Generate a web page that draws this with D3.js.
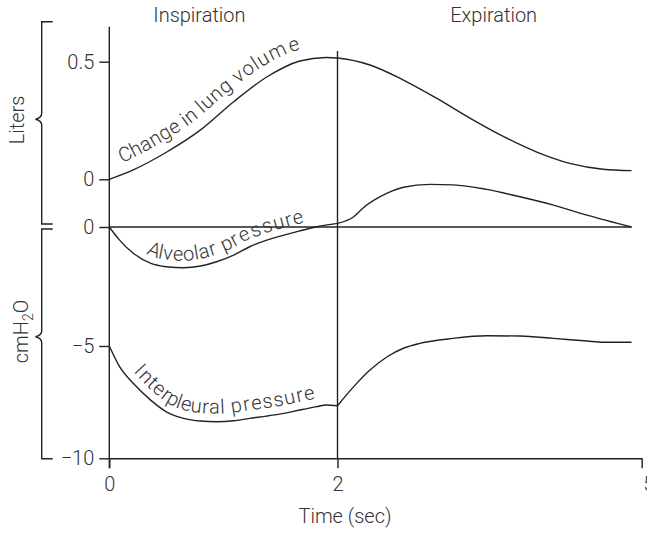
<!DOCTYPE html>
<html>
<head>
<meta charset="utf-8">
<script src="https://cdn.jsdelivr.net/npm/d3@7"></script>
<style>
  html, body { margin: 0; padding: 0; background: #fff; }
  svg { display: block; }
  text { font-family: Roboto, "Liberation Sans", Arial, sans-serif; font-weight: 300; fill: #333; }
</style>
</head>
<body>
<svg id="chart" width="647" height="533"></svg>
<script>
// Breathing cycle: time (sec) and readings of each trace
const volumeTime = [0, 0.21, 0.50, 0.80, 1.09, 1.38, 1.67, 1.90, 2.00, 2.32, 2.65, 2.98, 3.31, 3.64, 3.96, 4.29, 4.62, 4.90];
const volumeLiters = [0, 0.040, 0.115, 0.210, 0.330, 0.435, 0.503, 0.518, 0.516, 0.486, 0.422, 0.344, 0.259, 0.181, 0.117, 0.068, 0.043, 0.037];

const alveolarTime = [0, 0.09, 0.21, 0.36, 0.50, 0.65, 0.80, 0.94, 1.09, 1.23, 1.38, 1.53, 1.67, 1.82, 2.00,
                      2.16, 2.25, 2.49, 2.65, 2.91, 3.14, 3.47, 3.80, 4.13, 4.46, 4.90];
const alveolarPressure = [0, -0.55, -1.10, -1.52, -1.67, -1.71, -1.64, -1.46, -1.18, -0.83, -0.55, -0.34, -0.16, 0.01, 0.15,
                          0.43, 0.79, 1.42, 1.67, 1.79, 1.77, 1.58, 1.27, 0.92, 0.50, 0];

const pleuralTime = [0, 0.09, 0.21, 0.36, 0.50, 0.65, 0.80, 0.94, 1.09, 1.23, 1.38, 1.53, 1.67, 1.82, 1.90, 2.00,
                     2.16, 2.32, 2.49, 2.65, 2.81, 3.14, 3.47, 3.80, 4.13, 4.46, 4.62, 4.90];
const pleuralPressure = [-5.00, -5.92, -6.66, -7.40, -7.93, -8.22, -8.34, -8.37, -8.33, -8.22, -8.12, -8.00, -7.85, -7.70, -7.63, -7.66,
                         -6.81, -6.07, -5.48, -5.10, -4.89, -4.68, -4.57, -4.58, -4.68, -4.79, -4.84, -4.84];

const timeTicks = [0, 2, 5];
const literTicks = [0, 0.5];
const pressureTicks = [0, -5, -10];
const phaseNames = ["Inspiration", "Expiration"];
const phaseCenters = [0.79, 3.54];
const traceNames = ["Change in lung volume", "Alveolar pressure", "Interpleural pressure"];
const endTime = 4.9;

const svg = d3.select("#chart");
const ink = "#222";
const lineW = 1.4;
const fontPx = 20;

// Scales: time axis and the two stacked value axes
const x = d3.scaleLinear().domain([0, 2, 5]).range([109.3, 337.5, 641.7]);
const yL = d3.scaleLinear().domain([0, 0.5]).range([179.3, 61.7]);
const yP = d3.scaleLinear().domain([-10, -5, 0]).range([458.3, 346, 227]);
const baseY = yP(-10);

// Left spine and the divider at the end of inspiration
svg.append("line")
  .attr("x1", x(0)).attr("x2", x(0)).attr("y1", 26.7).attr("y2", baseY + 10)
  .attr("stroke", ink).attr("stroke-width", lineW);
svg.append("line")
  .attr("x1", x(2)).attr("x2", x(2)).attr("y1", 51).attr("y2", baseY)
  .attr("stroke", ink).attr("stroke-width", lineW);

// Zero-pressure reference line
svg.append("line")
  .attr("x1", x(0)).attr("x2", x(endTime)).attr("y1", yP(0)).attr("y2", yP(0))
  .attr("stroke", ink).attr("stroke-width", lineW);

function styleAxis(g) {
  g.attr("font-size", fontPx).attr("font-family", null);
  g.select(".domain").attr("stroke", ink).attr("stroke-width", lineW);
  g.selectAll(".tick line").attr("stroke", ink).attr("stroke-width", lineW);
  g.selectAll(".tick text").attr("fill", "#333");
}

// Liters axis
svg.append("g")
  .attr("transform", `translate(${x(0)},0)`)
  .call(d3.axisLeft(yL).tickValues(literTicks).tickSize(10).tickPadding(5).tickFormat(d3.format("~g")))
  .call(styleAxis)
  .call(g => g.select(".domain").remove());

// Pressure axis
svg.append("g")
  .attr("transform", `translate(${x(0)},0)`)
  .call(d3.axisLeft(yP).tickValues(pressureTicks).tickSize(10).tickPadding(5).tickFormat(d3.format("d")))
  .call(styleAxis)
  .call(g => g.select(".domain").remove());

// Time axis
const xAxis = svg.append("g")
  .attr("transform", `translate(0,${baseY})`)
  .call(d3.axisBottom(x).tickValues(timeTicks).tickSize(10).tickSizeOuter(0).tickPadding(9).tickFormat(d3.format("d")))
  .call(styleAxis);
xAxis.selectAll(".tick text").filter(d => d === 5).attr("text-anchor", "start").attr("dx", 1);

svg.append("text")
  .attr("x", 345).attr("y", 523)
  .attr("text-anchor", "middle").attr("font-size", fontPx)
  .text("Time (sec)");

// Phase headings
svg.selectAll("text.phase")
  .data(phaseNames)
  .join("text")
  .attr("class", "phase")
  .attr("x", (d, i) => x(phaseCenters[i]))
  .attr("y", 22)
  .attr("text-anchor", "middle").attr("font-size", fontPx)
  .text(d => d);

// Unit brackets with a small brace point
function brace(top, tip, bottom) {
  const vx = 41.7, arm = 52.7, px = 35.5, h = 6;
  return `M${arm},${top}H${vx}V${tip - h}Q${vx},${tip - 1.5} ${px},${tip}Q${vx},${tip + 1.5} ${vx},${tip + h}V${bottom}H${arm}`;
}
svg.append("path").attr("d", brace(21.7, 119.3, 224))
  .attr("fill", "none").attr("stroke", ink).attr("stroke-width", lineW);
svg.append("path").attr("d", brace(229, 336.7, baseY + 0.5))
  .attr("fill", "none").attr("stroke", ink).attr("stroke-width", lineW);

svg.append("text")
  .attr("transform", "translate(24,120) rotate(-90)")
  .attr("text-anchor", "middle").attr("font-size", fontPx)
  .text("Liters");

const unitP = svg.append("text")
  .attr("transform", "translate(28,331.5) rotate(-90)")
  .attr("text-anchor", "middle").attr("font-size", fontPx);
unitP.append("tspan").text("cmH");
unitP.append("tspan").attr("font-size", 14).attr("dy", 5).text("2");
unitP.append("tspan").attr("dy", -5).text("O");

// Traces
const lineOf = (sy) => d3.line().x(d => x(d[0])).y(d => sy(d[1])).curve(d3.curveMonotoneX);

const volumePts = d3.zip(volumeTime, volumeLiters);
const alveolarPts = d3.zip(alveolarTime, alveolarPressure);
const pleuralPts = d3.zip(pleuralTime, pleuralPressure);

function drawTrace(id, pts, sy, split) {
  const parts = split ? [pts.filter(d => d[0] <= 2), pts.filter(d => d[0] >= 2)] : [pts];
  parts.forEach((p, i) => {
    svg.append("path")
      .attr("id", i === 0 ? id : null)
      .attr("d", lineOf(sy)(p))
      .attr("fill", "none").attr("stroke", ink).attr("stroke-width", lineW)
      .attr("stroke-linejoin", "round");
  });
}
drawTrace("trace-volume", volumePts, yL, false);
drawTrace("trace-alveolar", alveolarPts, yP, true);
drawTrace("trace-pleural", pleuralPts, yP, true);

// Curve captions set along each trace
function lengthAtX(node, px) {
  let lo = 0, hi = node.getTotalLength();
  for (let i = 0; i < 40; i++) {
    const m = (lo + hi) / 2;
    if (node.getPointAtLength(m).x < px) lo = m; else hi = m;
  }
  return lo;
}
const captions = [
  { id: "trace-volume", startT: 0.15, dy: -11, spacing: 0.6 },
  { id: "trace-alveolar", startT: 0.30, dy: -7, spacing: 1.2 },
  { id: "trace-pleural", startT: 0.16, dy: -8, spacing: 1.3 }
];
captions.forEach((c, i) => {
  const node = document.getElementById(c.id);
  svg.append("text")
    .attr("font-size", fontPx)
    .attr("dy", c.dy)
    .attr("letter-spacing", c.spacing)
    .append("textPath")
    .attr("href", "#" + c.id)
    .attr("startOffset", lengthAtX(node, x(c.startT)))
    .text(traceNames[i]);
});
</script>
</body>
</html>
